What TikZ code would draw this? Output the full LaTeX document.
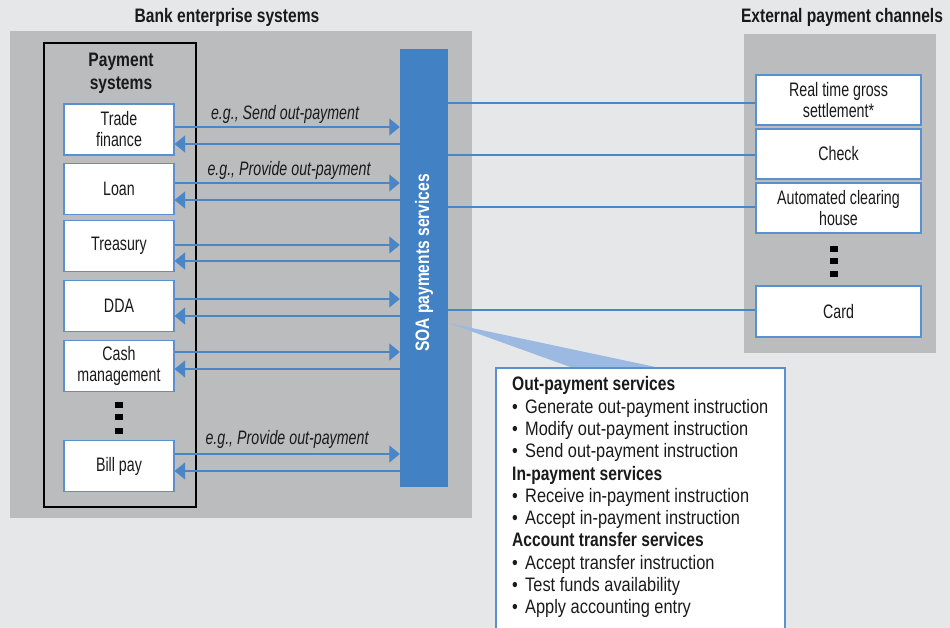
\documentclass[tikz,border=0pt]{standalone}
\usepackage{fontspec}
\setmainfont{Liberation Sans}[FakeStretch=0.73]
\newfontfamily\callfont{Liberation Sans}[FakeStretch=0.84]
\newfontfamily\headfont{Liberation Sans}[FakeStretch=0.8]
\usetikzlibrary{arrows.meta}
\definecolor{pagebg}{HTML}{E6E7E8}
\definecolor{panelgray}{HTML}{BBBCBE}
\definecolor{soablue}{HTML}{4281C4}
\definecolor{lineblue}{HTML}{4A85C6}
\definecolor{boxblue}{HTML}{5A8FD0}
\definecolor{wedgeblue}{HTML}{9CB9E2}
\definecolor{ink}{HTML}{1A1A1A}
\begin{document}
\begin{tikzpicture}[x=1pt,y=-1pt,
  panel/.style={fill=panelgray, draw=none, inner sep=0},
  sysbox/.style={draw=boxblue, line width=1.2pt, fill=white, minimum width=110pt,
    minimum height=51pt, inner sep=0, align=center, text=ink,
    font=\fontsize{19.5}{21}\selectfont},
  chanbox/.style={sysbox, minimum width=165pt, minimum height=50pt},
  title/.style={font=\headfont\bfseries\fontsize{19.5}{23}\selectfont, text=ink, align=center},
  arr/.style={draw=lineblue, line width=1.1pt, -{Triangle[length=10.5pt,width=17pt]}},
  link/.style={draw=lineblue, line width=1.1pt},
  vdot/.style={fill=black, minimum width=8pt, minimum height=6pt, inner sep=0},
  eg/.style={font=\itshape\fontsize{19.5}{21}\selectfont, text=ink}
]
% page
\clip (0,0) rectangle (950,628);
\fill[pagebg] (0,0) rectangle (950,628);

% group panels
\node[panel, minimum width=462pt, minimum height=487pt] (bank) at (241,274.5) {};
\node[panel, minimum width=192pt, minimum height=319pt] (ext) at (840,193.5) {};
\node[title] (banktitle) at (227,17) {Bank enterprise systems};
\node[title] (exttitle) at (842,17) {External payment channels};

% SOA service bar
\node[fill=soablue, draw=none, minimum width=48pt, minimum height=438pt, inner sep=0] (soa) at (424,268) {};
\node[rotate=90, text=white, font=\headfont\bfseries\fontsize{19.5}{23}\selectfont] (soalabel) at (424,263) {SOA payments services};

% external channels
\node[chanbox] (rtgs) at (838.5,100) {Real time gross\\settlement*};
\node[chanbox] (chk) at (838.5,154) {Check};
\node[chanbox] (ach) at (838.5,208) {Automated clearing\\house};
\node[chanbox, minimum height=51pt] (card) at (838.5,311.5) {Card};
\node[vdot] (ed1) at (834,249) {};
\node[vdot] (ed2) at (834,261) {};
\node[vdot] (ed3) at (834,274) {};

% links from the bar to the channels
\draw[link] ([yshift=-3pt]rtgs.west) -- ([yshift=-3pt]rtgs.west -| soa.east);
\draw[link] ([yshift=-1pt]chk.west) -- ([yshift=-1pt]chk.west -| soa.east);
\draw[link] ([yshift=1pt]ach.west) -- ([yshift=1pt]ach.west -| soa.east);
\draw[link] ([yshift=1.5pt]card.west) -- ([yshift=1.5pt]card.west -| soa.east);

% payment systems
\node[draw=black, line width=1.3pt, minimum width=152pt, minimum height=464pt, inner sep=0] (psys) at (120,275) {};
\node[title] (psystitle) at (121,73.5) {Payment\\systems};

\node[sysbox] (tf) at (119,129.5) {Trade\\finance};
\node[sysbox] (loan) at (119,189) {Loan};
\node[sysbox] (tre) at (119,246) {Treasury};
\node[sysbox] (dda) at (119,306) {DDA};
\node[sysbox] (cash) at (119,366) {Cash\\management};
\node[sysbox] (bill) at (119,466) {Bill pay};
\node[vdot] (pd1) at (119,405) {};
\node[vdot] (pd2) at (119,417) {};
\node[vdot] (pd3) at (119,430.5) {};

% request / response arrows between each system and the bar
\foreach \b/\r/\l in {tf/-2.5/14.5, loan/-6/11, tre/-1/15, dda/-7/10, cash/-14/3, bill/-12/5} {
  \draw[arr] ([yshift={-(\r)*1pt}]\b.east) -- ([yshift={-(\r)*1pt}]\b.east -| soa.west);
  \draw[arr] ([yshift={-(\l)*1pt}]\b.east -| soa.west) -- ([yshift={-(\l)*1pt}]\b.east);
}
\node[eg] (eg1) at (285,114) {e.g., Send out-payment};
\node[eg] (eg2) at (289,170) {e.g., Provide out-payment};
\node[eg] (eg3) at (287,439.5) {e.g., Provide out-payment};

% callout listing the services
\node[draw=boxblue, line width=1.2pt, fill=white, minimum width=289pt, minimum height=282pt, inner sep=0] (callout) at (640.5,509) {};
\fill[wedgeblue] ([yshift=-55pt]soa.east) -- ([xshift=162pt]callout.north west) -- ([xshift=76pt]callout.north west) -- cycle;
\draw[boxblue, line width=1.2pt] (callout.north west) -- (callout.north east);
\node[anchor=north west, align=left, inner sep=0, text=ink,
  font=\callfont\fontsize{19.5}{22.3}\selectfont] (services) at (512,376.5) {%
  {\headfont\bfseries Out-payment services}\\
  \makebox[13pt][l]{\textbullet}Generate out-payment instruction\\
  \makebox[13pt][l]{\textbullet}Modify out-payment instruction\\
  \makebox[13pt][l]{\textbullet}Send out-payment instruction\\
  {\headfont\bfseries In-payment services}\\
  \makebox[13pt][l]{\textbullet}Receive in-payment instruction\\
  \makebox[13pt][l]{\textbullet}Accept in-payment instruction\\
  {\headfont\bfseries Account transfer services}\\
  \makebox[13pt][l]{\textbullet}Accept transfer instruction\\
  \makebox[13pt][l]{\textbullet}Test funds availability\\
  \makebox[13pt][l]{\textbullet}Apply accounting entry};
\end{tikzpicture}
\end{document}
